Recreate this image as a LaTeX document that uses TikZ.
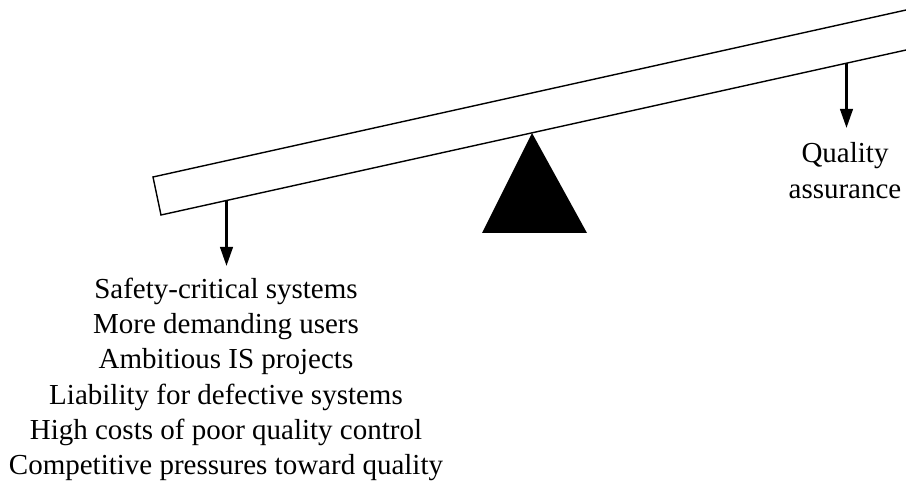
\documentclass[tikz,border=0pt]{standalone}
\usepackage{fontspec}
\setmainfont{Liberation Serif}
\usetikzlibrary{arrows.meta}
\begin{document}
\begin{tikzpicture}[x=1pt,y=-1pt,
  plank/.style={draw=black,line width=1.4pt,fill=white},
  load/.style={line width=2.6pt,-{Triangle[length=19pt,width=12.5pt]}},
  lbl/.style={align=center,inner sep=0pt,anchor=north,
    font=\fontsize{29}{35.3}\selectfont}]
\useasboundingbox (0,0) rectangle (906,481);
\begin{scope}
  \clip (0,0) rectangle (906,481);
  % the beam, running off the right-hand edge
  \draw[plank] (930,4.7) -- (153,177) -- (161,215) -- (930,44.7);
  % fulcrum
  \fill (532,133) coordinate (apex) -- (482,233) coordinate (bl) -- (587,233) coordinate (br) -- cycle;
\end{scope}
% load points on the underside of the beam
\coordinate (lp) at (226.5,200.5);
\coordinate (rp) at (846.5,63);
\coordinate (la) at (226.5,266);
\coordinate (ra) at (846.5,128);
\node[lbl] (pressures) at (226,277.5) {Safety-critical systems\\More demanding users\\Ambitious IS projects\\Liability for defective systems\\High costs of poor quality control\\Competitive pressures toward quality};
\node[lbl] (qa) at (845,142.5) {Quality\\assurance};
\draw[load] (lp) -- (la);
\draw[load] (rp) -- (ra);
\end{tikzpicture}
\end{document}
